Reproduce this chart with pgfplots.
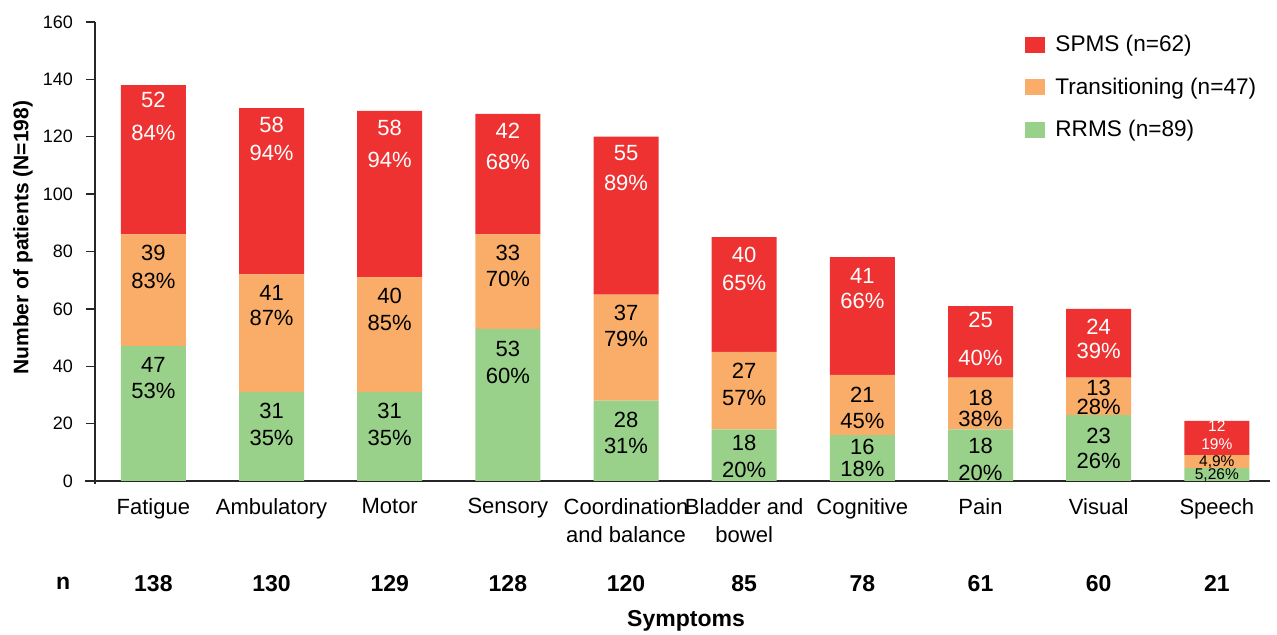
\documentclass[border=0pt]{standalone}
\usepackage{pgfplots}
\pgfplotsset{compat=1.18}
\usepackage{fontspec}
\setmainfont{Liberation Sans}

\definecolor{spms}{RGB}{238,49,49}
\definecolor{trans}{RGB}{249,173,104}
\definecolor{rrms}{RGB}{153,209,139}

% Stacked bar labels sit at the middle of their segment; these boxes move the
% text up by half the segment height (1 unit = 1.434375pt) so it hangs from the top.
% \lbl{segment height}{gap below top, pt}{line pitch, pt}{line 1}{line 2}
\protected\def\lbl#1#2#3#4#5{\raisebox{\dimexpr0.7171875\dimexpr#1pt\relax-#2pt-7.88pt\relax}[0pt][0pt]{%
  \fontsize{11}{13}\selectfont\vtop{\baselineskip=#3pt\lineskip=0pt\lineskiplimit=-\maxdimen
  \halign{\hfil##\hfil\cr#4\cr#5\cr}}}}
% \lbls{segment height}{line 1}{line 2}: small text for the short Speech segments
\protected\def\lbls#1#2#3{\raisebox{\dimexpr0.7171875\dimexpr#1pt\relax-5.5pt\relax}[0pt][0pt]{%
  \fontsize{7.75}{8.75}\selectfont\vtop{\baselineskip=8.75pt\lineskip=0pt\lineskiplimit=-\maxdimen
  \halign{\hfil##\hfil\cr#2\cr#3\cr}}}}

\begin{document}
\begin{tikzpicture}
\useasboundingbox (-47.5pt,-77pt) rectangle (591pt,240.5pt);
\begin{axis}[
  at={(0,0)}, anchor=south west,
  scale only axis, width=587.5pt, height=229.5pt,
  ybar stacked, bar width=32.5pt,
  xmin=-0.494, xmax=9.45, ymin=0, ymax=160,
  axis x line*=bottom, axis y line*=left,
  axis line style={line width=0.8pt, black!85},
  x axis line style={shorten <=-5pt},
  y axis line style={shorten <=-1.5pt},
  clip=false,
  ytick={0,20,...,160},
  yticklabels={0,20,40,60,80,100,120,140,160},
  tick align=outside, major tick length=4.5pt,
  ytick style={line width=0.7pt, black!85},
  xtick={0,...,9},
  xtick style={draw=none},
  xticklabels={Fatigue, Ambulatory, Motor, Sensory, {Coordination\\and balance}, {Bladder and\\bowel}, Cognitive, Pain, Visual, Speech},
  xticklabel style={align=center, anchor=north, yshift=-0.7pt, font=\fontsize{11}{14}\selectfont},
  yticklabel style={font=\fontsize{9}{11}\selectfont, xshift=-3pt},
  extra x ticks={0,...,9},
  extra x tick labels={138,130,129,128,120,85,78,61,60,21},
  extra x tick style={xticklabel style={yshift=-38.3pt, font=\bfseries\fontsize{11.5}{13}\selectfont}},
  ylabel={Number of patients (N=198)},
  ylabel style={at={(axis description cs:-0.0613,0.530)}, anchor=center, font=\bfseries\fontsize{10.5}{13}\selectfont},
  xlabel={Symptoms},
  xlabel style={at={(axis description cs:0.503,-0.304)}, anchor=center, font=\bfseries\fontsize{11.5}{13}\selectfont},
  legend style={at={(axis description cs:0.7915,0.980)}, anchor=north west, draw=none, fill=none,
    inner sep=0pt, row sep=7.4pt, column sep=3pt, font=\fontsize{11.3}{13}\selectfont},
  legend cell align=left,
  reverse legend,
  legend image code/.code={\fill[#1,draw=none] (0pt,-4pt) rectangle (10pt,4pt);},
  point meta=explicit symbolic,
  nodes near coords={\pgfplotspointmeta},
  every node near coord/.append style={anchor=base, inner sep=0pt},
]
\addplot[fill=rrms, draw=none] coordinates {
  (0,47) [\lbl{47}{5.1}{13.35}{47}{53\%}]
  (1,31) [\lbl{31}{5.4}{13.35}{31}{35\%}]
  (2,31) [\lbl{31}{5.4}{13.35}{31}{35\%}]
  (3,53) [\lbl{53}{5.85}{13.35}{53}{60\%}]
  (4,28) [\lbl{28}{5.6}{13}{28}{31\%}]
  (5,18) [\lbl{18}{2.6}{13.35}{18}{20\%}]
  (6,16) [\lbl{16}{1.9}{11.15}{16}{18\%}]
  (7,18) [\lbl{18}{4.25}{13.35}{18}{20\%}]
  (8,23) [\lbl{23}{6.45}{12.5}{23}{26\%}]
  (9,4.5) [\lbls{4.5}{5,26\%}{}]};
\addlegendentry{RRMS (n=89)}
\addplot[fill=trans, draw=none] coordinates {
  (0,39) [\lbl{39}{5.25}{14}{39}{83\%}]
  (1,41) [\lbl{41}{5.15}{12.5}{41}{87\%}]
  (2,40) [\lbl{40}{5.35}{13.35}{40}{85\%}]
  (3,33) [\lbl{33}{5.25}{13}{33}{70\%}]
  (4,37) [\lbl{37}{5.1}{13}{37}{79\%}]
  (5,27) [\lbl{27}{5.2}{13.65}{27}{57\%}]
  (6,21) [\lbl{21}{5.75}{13.35}{21}{45\%}]
  (7,18) [\lbl{18}{5.95}{10.35}{18}{38\%}]
  (8,13) [\lbl{13}{1.0}{9.4}{13}{28\%}]
  (9,4.5) [\lbls{4.5}{4,9\%}{}]};
\addlegendentry{Transitioning (n=47)}
\addplot[fill=spms, draw=none, every node near coord/.append style={text=white}] coordinates {
  (0,52) [\lbl{52}{3.25}{16.65}{52}{84\%}]
  (1,58) [\lbl{58}{4.3}{14.15}{58}{94\%}]
  (2,58) [\lbl{58}{4.5}{16.15}{58}{94\%}]
  (3,42) [\lbl{42}{4.7}{15.5}{42}{68\%}]
  (4,55) [\lbl{55}{4.05}{15}{55}{89\%}]
  (5,40) [\lbl{40}{4.65}{14.15}{40}{65\%}]
  (6,41) [\lbl{41}{5.4}{12.5}{41}{66\%}]
  (7,25) [\lbl{25}{2.7}{19.15}{25}{40\%}]
  (8,24) [\lbl{24}{5.05}{12}{24}{39\%}]
  (9,12) [\lbls{12}{12}{19\%}]};
\addlegendentry{SPMS (n=62)}
\node[font=\bfseries\fontsize{11.5}{13}\selectfont] at (axis description cs:-0.0272,-0.222) {n};
\end{axis}
\end{tikzpicture}
\end{document}
